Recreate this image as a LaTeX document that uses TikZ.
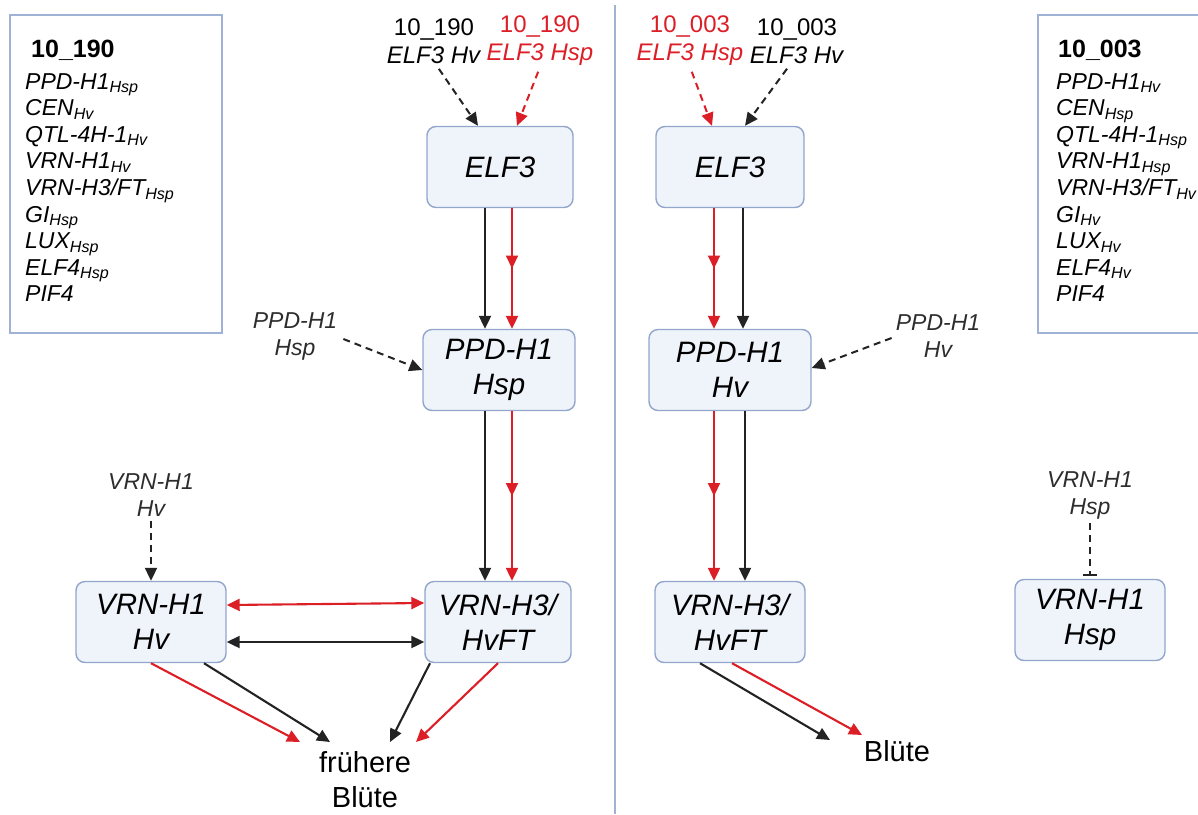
\documentclass[tikz,border=0pt]{standalone}
\usepackage{fontspec}
\setmainfont{Liberation Sans}
\usetikzlibrary{arrows.meta,decorations.markings}
\definecolor{boxborder}{RGB}{146,166,204}
\definecolor{boxfill}{RGB}{239,243,250}
\definecolor{frameblue}{RGB}{160,178,214}
\definecolor{arrred}{RGB}{220,30,38}
\definecolor{arrblk}{RGB}{35,35,35}
\definecolor{lbltext}{RGB}{45,45,45}
\newcommand\fsz[2]{\fontsize{#1}{#2}\selectfont}
\tikzset{
  gene/.style={draw=boxborder, fill=boxfill, rounded corners=9pt, line width=1.4pt,
    minimum height=81pt, align=center, inner sep=0pt, font=\fsz{29.5}{35}\itshape},
  toplbl/.style={align=center, inner sep=1pt, font=\fsz{24}{28}},
  smlbl/.style={align=center, inner sep=1pt, text=lbltext, font=\fsz{23}{27}\itshape},
  listtxt/.style={anchor=north west, align=left, inner sep=0pt, font=\fsz{23}{26.6}\itshape},
  listhead/.style={anchor=west, inner sep=0pt, font=\fsz{25}{28}\bfseries},
  frame/.style={draw=frameblue, line width=1.6pt},
  tri/.tip={Triangle[length=13pt,width=12pt]},
  blkarr/.style={color=arrblk, line width=2.1pt, -tri},
  redarr/.style={color=arrred, line width=2.1pt, -tri},
  midred/.style={redarr, postaction={decorate},
    decoration={markings, mark=at position 0.5 with {\arrow{tri}}}},
  dblk/.style={color=arrblk, line width=2pt, dash pattern=on 7pt off 5pt, -tri},
  dred/.style={color=arrred, line width=2pt, dash pattern=on 7pt off 5pt, -tri},
  dbar/.style={color=arrblk, line width=2pt, dash pattern=on 7pt off 5pt, -{Bar[width=14pt]}},
}
\begin{document}
\begin{tikzpicture}[x=1pt,y=-1pt]
\useasboundingbox (0,0) rectangle (1198,814);

% separator and list frames
\draw[frame] (615,5) -- (615,814);
\draw[frame] (10,15) rectangle (222,333);
\draw[frame] (1038,15) rectangle (1215,333);

\node[listhead] (headL) at (31,50) {10\_190};
\node[listtxt] (listL) at (25,73) {PPD-H1\textsubscript{Hsp}\\CEN\textsubscript{Hv}\\QTL-4H-1\textsubscript{Hv}\\VRN-H1\textsubscript{Hv}\\VRN-H3/FT\textsubscript{Hsp}\\GI\textsubscript{Hsp}\\LUX\textsubscript{Hsp}\\ELF4\textsubscript{Hsp}\\PIF4};
\node[listhead] (headR) at (1058,50) {10\_003};
\node[listtxt] (listR) at (1056,73) {PPD-H1\textsubscript{Hv}\\CEN\textsubscript{Hsp}\\QTL-4H-1\textsubscript{Hsp}\\VRN-H1\textsubscript{Hsp}\\VRN-H3/FT\textsubscript{Hv}\\GI\textsubscript{Hv}\\LUX\textsubscript{Hv}\\ELF4\textsubscript{Hv}\\PIF4};

% gene boxes
\node[gene, minimum width=146pt] (elfL) at (500,167) {ELF3};
\node[gene, minimum width=152pt] (ppdL) at (499,370) {PPD-H1\\Hsp};
\node[gene, minimum width=146pt] (ftL) at (498,622) {VRN-H3/\\HvFT};
\node[gene, minimum width=150pt] (vrnHv) at (151,622) {VRN-H1\\Hv};
\node[gene, minimum width=148pt] (elfR) at (730,167) {ELF3};
\node[gene, minimum width=162pt] (ppdR) at (730,370) {PPD-H1\\Hv};
\node[gene, minimum width=150pt] (ftR) at (730,622) {VRN-H3/\\HvFT};
\node[gene, minimum width=150pt] (vrnHsp) at (1090,620) {VRN-H1\\Hsp};

% top labels
\node[toplbl] (tHvL) at (434,41) {10\_190\\\textit{ELF3 Hv}};
\node[toplbl, text=arrred] (tHspL) at (540,41) {10\_190\\\textit{ELF3 Hsp}};
\node[toplbl, text=arrred] (tHspR) at (690,41) {10\_003\\\textit{ELF3 Hsp}};
\node[toplbl] (tHvR) at (797,41) {10\_003\\\textit{ELF3 Hv}};

\draw[dblk, shorten <=5pt] ([xshift=2pt]tHvL.south) -- ([xshift=-22pt]elfL.north);
\draw[dred, shorten <=5pt] (tHspL.south) -- ([xshift=17pt]elfL.north);
\draw[dred, shorten <=5pt] (tHspR.south) -- ([xshift=-18pt]elfR.north);
\draw[dblk, shorten <=5pt] ([xshift=-7pt]tHvR.south) -- ([xshift=15pt]elfR.north);

% side labels
\node[smlbl] (lPpdL) at (295,336) {PPD-H1\\Hsp};
\node[smlbl] (lPpdR) at (938,336) {PPD-H1\\Hv};
\node[smlbl] (lVrnHv) at (151,495) {VRN-H1\\Hv};
\node[smlbl] (lVrnHsp) at (1090,495) {VRN-H1\\Hsp};

\draw[dblk] ([xshift=5pt,yshift=-3pt]lPpdL.east) -- (ppdL.west);
\draw[dblk] ([xshift=-3pt,yshift=-2pt]lPpdR.west) -- ([yshift=2pt]ppdR.east);
\draw[dblk, shorten <=3pt] (lVrnHv.south) -- (vrnHv.north);
\draw[dbar, shorten <=3pt, shorten >=3pt] (lVrnHsp.south) -- (vrnHsp.north);

% left cascade
\draw[blkarr] ([xshift=-15pt]elfL.south) -- ([xshift=-14pt]ppdL.north);
\draw[midred] ([xshift=12pt]elfL.south) -- ([xshift=13pt]ppdL.north);
\draw[blkarr] ([xshift=-14pt]ppdL.south) -- ([xshift=-13pt]ftL.north);
\draw[midred] ([xshift=13pt]ppdL.south) -- ([xshift=14pt]ftL.north);

% right cascade
\draw[midred] ([xshift=-16pt]elfR.south) -- ([xshift=-16pt]ppdR.north);
\draw[blkarr] ([xshift=13pt]elfR.south) -- ([xshift=13pt]ppdR.north);
\draw[midred] ([xshift=-16pt]ppdR.south) -- ([xshift=-16pt]ftR.north);
\draw[blkarr] ([xshift=15pt]ppdR.south) -- ([xshift=15pt]ftR.north);

% mutual interaction
\draw[color=arrred, line width=2.1pt, tri-tri] ([yshift=17pt]vrnHv.east) -- ([yshift=19pt]ftL.west);
\draw[color=arrblk, line width=2.1pt, tri-tri] ([yshift=-20pt]vrnHv.east) -- ([yshift=-20pt]ftL.west);

% flowering outputs
\node[font=\fsz{29}{35}, align=center, inner sep=0pt] (bluteL) at (365,780) {frühere\\Blüte};
\node[font=\fsz{29}{35}, inner sep=0pt] (bluteR) at (897,751) {Blüte};
\coordinate (eL1) at (300,742);
\coordinate (eL2) at (330,742);
\coordinate (eL3) at (390,742);
\coordinate (eL4) at (416,742);
\coordinate (eR1) at (830,740);
\coordinate (eR2) at (862,735);

\draw[redarr] (vrnHv.south) -- (eL1);
\draw[blkarr] ([xshift=53pt]vrnHv.south) -- (eL2);
\draw[blkarr] ([xshift=-68pt]ftL.south) -- (eL3);
\draw[redarr] (ftL.south) -- (eL4);
\draw[blkarr] ([xshift=-30pt]ftR.south) -- (eR1);
\draw[redarr] ([xshift=2pt]ftR.south) -- (eR2);
\end{tikzpicture}
\end{document}
